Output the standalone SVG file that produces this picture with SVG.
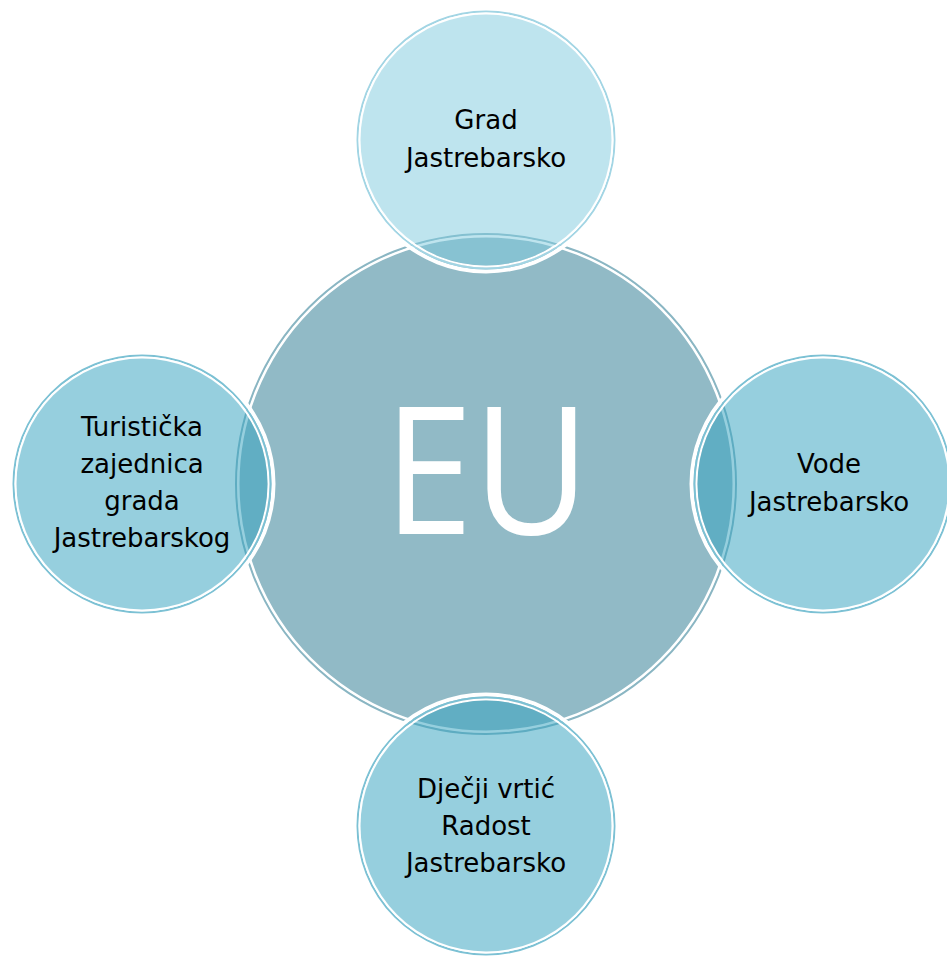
<svg xmlns="http://www.w3.org/2000/svg" width="947" height="957" viewBox="0 0 947 957">
<style>
.lbl{font-family:"DejaVu Sans","Liberation Sans",sans-serif;font-size:26px;fill:#000;text-anchor:middle}
.halo{fill:none;stroke:#fff;stroke-width:4}
.wl{fill:none;stroke:#fff;stroke-width:2}
.ring{fill:none;stroke-width:2}
</style>
<rect width="947" height="957" fill="#fff"/>
<g id="eu">
<circle cx="486" cy="484" r="250" fill="none" stroke="#8AB6C3" stroke-width="2"/>
<circle cx="486" cy="484" r="247.5" fill="#91BAC6" stroke="#fff" stroke-width="2"/>
<text x="0" y="534" transform="translate(487 0) scale(0.9 1)" font-family="'Open Sans','DejaVu Sans',sans-serif" font-size="178" fill="#fff" text-anchor="middle">EU</text>
</g>
<g id="connectors"></g>
<g id="grad">
<circle cx="486" cy="140" r="131.5" class="halo"/>
<circle cx="486" cy="140" r="128.5" class="ring" stroke="#A2D5E4"/>
<circle cx="486" cy="140" r="126.5" class="wl"/>
<circle cx="486" cy="140" r="125.5" fill="#7DC9DD" fill-opacity="0.5"/>
<text class="lbl" x="486" y="129">Grad</text>
<text class="lbl" x="486" y="167">Jastrebarsko</text>
</g>
<g id="turisticka">
<circle cx="142" cy="484" r="131.5" class="halo"/>
<circle cx="142" cy="484" r="128.5" class="ring" stroke="#7CC1D4"/>
<circle cx="142" cy="484" r="126.5" class="wl"/>
<circle cx="142" cy="484" r="125.5" fill="#35A3BF" fill-opacity="0.52"/>
<text class="lbl" x="142" y="436">Turistička</text>
<text class="lbl" x="142" y="473">zajednica</text>
<text class="lbl" x="142" y="510">grada</text>
<text class="lbl" x="142" y="547">Jastrebarskog</text>
</g>
<g id="vode">
<circle cx="823" cy="484" r="131.5" class="halo"/>
<circle cx="823" cy="484" r="128.5" class="ring" stroke="#7CC1D4"/>
<circle cx="823" cy="484" r="126.5" class="wl"/>
<circle cx="823" cy="484" r="125.5" fill="#35A3BF" fill-opacity="0.52"/>
<text class="lbl" x="829" y="473">Vode</text>
<text class="lbl" x="829" y="511">Jastrebarsko</text>
</g>
<g id="vrtic">
<circle cx="486" cy="826" r="131.5" class="halo"/>
<circle cx="486" cy="826" r="128.5" class="ring" stroke="#7CC1D4"/>
<circle cx="486" cy="826" r="126.5" class="wl"/>
<circle cx="486" cy="826" r="125.5" fill="#35A3BF" fill-opacity="0.52"/>
<text class="lbl" x="486" y="798">Dječji vrtić</text>
<text class="lbl" x="486" y="835">Radost</text>
<text class="lbl" x="486" y="872">Jastrebarsko</text>
</g>
</svg>
